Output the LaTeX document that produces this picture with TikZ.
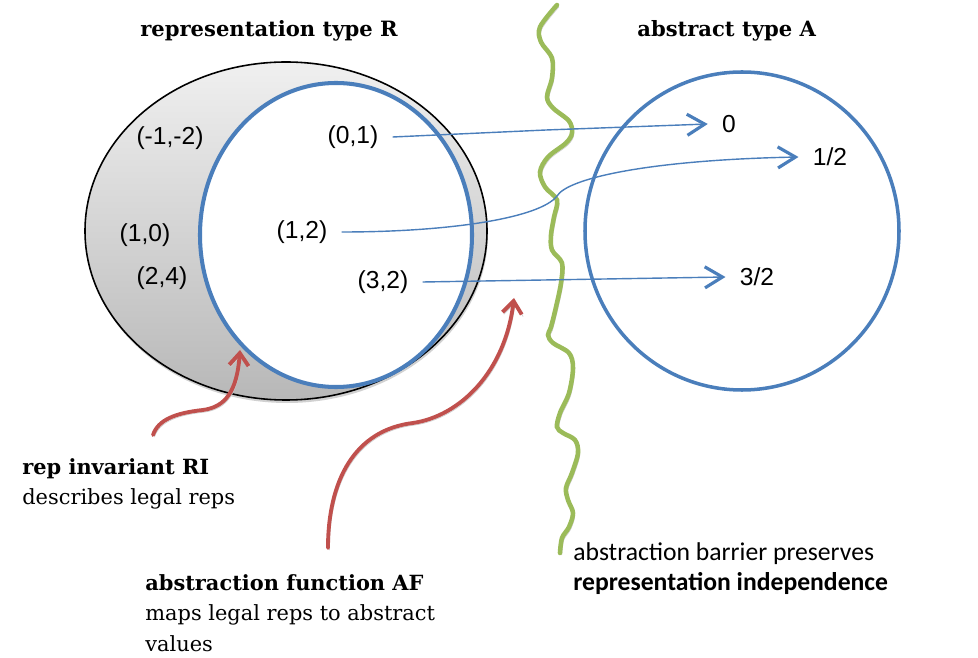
\documentclass[tikz,border=0pt]{standalone}
\usepackage{fontspec}
\setmainfont{DejaVu Serif}
\newfontfamily\valfont{Liberation Sans}
\newfontfamily\barfont{Carlito}
\usetikzlibrary{arrows.meta}

\definecolor{setblue}{HTML}{4A7EBB}
\definecolor{arrowred}{HTML}{C0504D}
\definecolor{barriergreen}{HTML}{9BBB59}

\tikzset{
  val/.style={font=\valfont\fontsize{14}{16}\selectfont, inner ysep=1pt, inner xsep=8pt},
  settitle/.style={font=\bfseries\fontsize{12}{14}\selectfont, anchor=base west, inner sep=0pt},
  note/.style={font=\fontsize{11.9}{17.3}\selectfont, align=left, anchor=base west, inner sep=0pt},
  barnote/.style={font=\barfont\fontsize{14.6}{17.6}\selectfont, align=left, anchor=base west, inner sep=0pt},
  mapsto/.style={setblue, line width=0.8pt, -{Straight Barb[length=10pt,width=12pt,line width=1.8pt]}},
  pointer/.style={arrowred, line width=2.2pt, line cap=round,
    -{Straight Barb[length=7pt,width=11pt]},
    preaction={draw=black!20, transform canvas={shift={(0.8pt,-1.2pt)}}}},
}

\begin{document}
\begin{tikzpicture}[x=0.2mm, y=-0.2mm]
\useasboundingbox (0,0) rectangle (978,658);

% representation values, legal ones inside the blue circle
\fill[black!18] (287,234) ellipse [x radius=40.2mm, y radius=33.8mm];
\shade[top color=black!6, bottom color=black!28, draw=black, line width=0.9pt]
  (286,231) ellipse [x radius=40.2mm, y radius=33.8mm];
\draw[setblue, fill=white, line width=2.3pt] (336,235) ellipse [x radius=27.2mm, y radius=30.4mm];

% abstract values
\draw[setblue, line width=2pt] (742,231) ellipse [x radius=31.4mm, y radius=31.8mm];

\node[settitle] (rtitle) at (140,37) {representation type R};
\node[settitle] (atitle) at (637,37) {abstract type A};

\node[val] (rm1m2) at (170,138) {(-1,-2)};
\node[val] (r10)   at (145,235) {(1,0)};
\node[val] (r24)   at (162,278) {(2,4)};
\node[val] (r01)   at (353,137) {(0,1)};
\node[val] (r12)   at (302,232) {(1,2)};
\node[val] (r32)   at (383,282) {(3,2)};

\node[val] (a0)    at (729,124) {0};
\node[val] (ahalf) at (830,157) {1/2};
\node[val] (a3h)   at (757,277) {3/2};

% the barrier
\draw[barriergreen, line width=2.6pt, line cap=round,
  preaction={draw=black!20, transform canvas={shift={(1pt,-1.2pt)}}}]
  plot[smooth, tension=0.55] coordinates {(557,5) (540,27) (541,42) (552,58)
  (552,78) (547,97) (553,108) (569,121) (572,133) (566,143) (548,157) (540,172)
  (545,187) (557,200) (554,217) (551,235) (552,250) (562,263) (561,283) (556,307)
  (551,327) (548,335) (553,343) (569,353) (573,368) (569,393) (560,413) (557,427)
  (563,433) (575,440) (578,453) (572,473) (566,488) (568,500) (573,513) (569,527)
  (562,538) (560,553)};

% abstraction function
\draw[mapsto] (r01.east) -- (546,130) -- (a0.west);
\draw[mapsto] (r12.east) .. controls (450,232) and (540,218) .. (557,196)
  .. controls (568,178) and (650,160) .. (ahalf.west);
\draw[mapsto] (r32.east) -- (a3h.west);

% notes
\node[note] (rinote) at (22,505) {\textbf{rep invariant RI}\\describes legal reps};
\node[note] (afnote) at (145,651) {\textbf{abstraction function AF}\\maps legal reps to abstract\\values};
\node[barnote] (barnote) at (573,591) {abstraction barrier preserves\\\textbf{representation independence}};

\coordinate (ritail) at (153,435);
\coordinate (rihead) at (240,350);
\coordinate (aftail) at (328,548);
\coordinate (afhead) at (514,298);

\draw[pointer] (ritail) .. controls (158,420) and (175,413) .. (203,410)
  .. controls (225,407) and (237,392) .. (rihead);
\draw[pointer] (aftail) .. controls (328,480) and (355,430) .. (413,423)
  .. controls (460,416) and (505,372) .. (afhead);
\end{tikzpicture}
\end{document}
